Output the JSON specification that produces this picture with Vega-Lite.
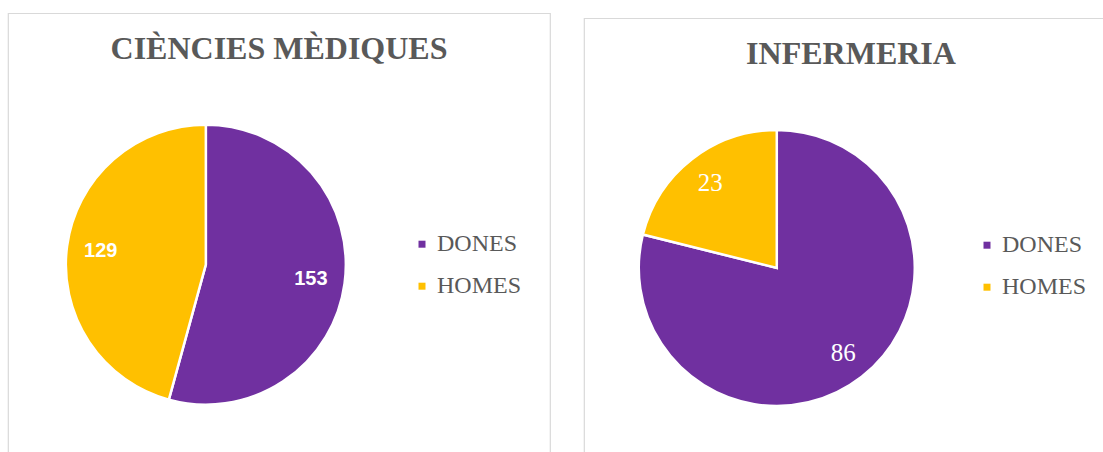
{
  "$schema": "https://vega.github.io/schema/vega-lite/v6.json",
  "background": "white",
  "padding": {"left": 7, "top": 12, "right": 0, "bottom": 0},
  "spacing": 32,
  "center": true,
  "datasets": {
    "d": [
      {"panel": "CIÈNCIES MÈDIQUES", "g": "DONES", "v": 153},
      {"panel": "CIÈNCIES MÈDIQUES", "g": "HOMES", "v": 129},
      {"panel": "INFERMERIA", "g": "DONES", "v": 86},
      {"panel": "INFERMERIA", "g": "HOMES", "v": 23}
    ]
  },
  "config": {
    "view": {"stroke": "#D9D9D9", "strokeWidth": 1.2},
    "title": {"font": "Liberation Serif", "fontSize": 32, "fontWeight": "bold", "color": "#595959", "baseline": "alphabetic", "offset": -53, "anchor": "middle"},
    "legend": {"orient": "none", "title": null, "symbolType": "square", "symbolSize": 49, "symbolStrokeWidth": 0, "labelFont": "Liberation Serif", "labelFontSize": 24, "labelColor": "#595959", "rowPadding": 18, "labelOffset": 3}
  },
  "hconcat": [
    {
      "width": 542,
      "height": 470,
      "title": {"text": "CIÈNCIES MÈDIQUES"},
      "data": {"name": "d"},
      "transform": [{"filter": "datum.panel === 'CIÈNCIES MÈDIQUES'"}],
      "encoding": {
        "theta": {"field": "v", "type": "quantitative", "stack": true},
        "order": {"field": "g", "type": "ordinal", "sort": "ascending"},
        "x": {"datum": 0.365, "type": "quantitative", "scale": {"domain": [0, 1]}, "axis": null},
        "y": {"datum": 0.465, "type": "quantitative", "scale": {"domain": [0, 1]}, "axis": null}
      },
      "layer": [
        {
          "mark": {"type": "arc", "outerRadius": 140, "stroke": "white", "strokeWidth": 2.5},
          "encoding": {
            "color": {"field": "g", "type": "nominal", "scale": {"domain": ["DONES", "HOMES"], "range": ["#7030A0", "#FFC000"]}, "legend": {"legendX": 402, "legendY": 219}}
          }
        },
        {
          "mark": {"type": "text", "radius": 106, "font": "Liberation Sans", "fontWeight": "bold", "fontSize": 20, "fill": "white"},
          "encoding": {
            "detail": {"field": "g", "type": "nominal"},
            "text": {"field": "v", "type": "quantitative"}
          }
        }
      ]
    },
    {
      "width": 534,
      "height": 460,
      "title": {"text": "INFERMERIA"},
      "data": {"name": "d"},
      "transform": [{"filter": "datum.panel === 'INFERMERIA'"}],
      "encoding": {
        "theta": {"field": "v", "type": "quantitative", "stack": true},
        "order": {"field": "g", "type": "ordinal", "sort": "ascending"},
        "x": {"datum": 0.361, "type": "quantitative", "scale": {"domain": [0, 1]}, "axis": null},
        "y": {"datum": 0.457, "type": "quantitative", "scale": {"domain": [0, 1]}, "axis": null}
      },
      "layer": [
        {
          "mark": {"type": "arc", "outerRadius": 138, "stroke": "white", "strokeWidth": 2.5},
          "encoding": {
            "color": {"field": "g", "type": "nominal", "scale": {"domain": ["DONES", "HOMES"], "range": ["#7030A0", "#FFC000"]}, "legend": {"legendX": 391, "legendY": 215}}
          }
        },
        {
          "mark": {"type": "text", "radius": 108, "font": "Liberation Serif", "fontSize": 25, "fill": "white"},
          "encoding": {
            "detail": {"field": "g", "type": "nominal"},
            "text": {"field": "v", "type": "quantitative"}
          }
        }
      ]
    }
  ],
  "resolve": {"scale": {"color": "independent", "x": "independent", "y": "independent"}}
}
